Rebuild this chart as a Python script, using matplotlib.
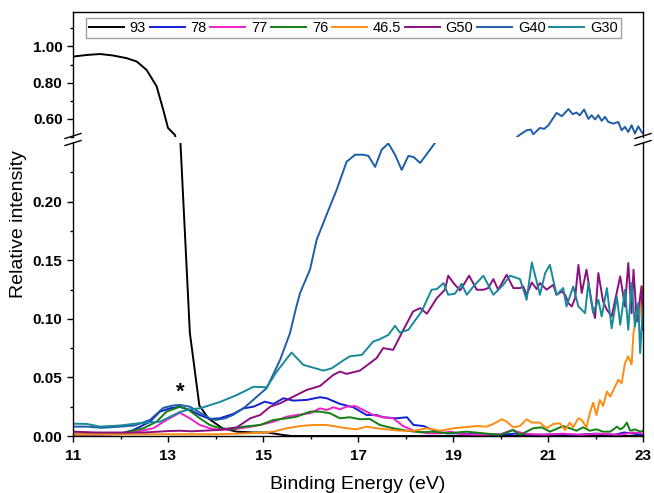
import matplotlib
matplotlib.use("Agg")
from matplotlib import pyplot as plt
from matplotlib.lines import Line2D
from matplotlib.ticker import MultipleLocator, FormatStrFormatter

plt.rcParams['font.family'] = 'Liberation Sans'
plt.rcParams['font.weight'] = 'bold'   # tick labels are bold in the original

# ---- data ----
e93 = [11.0, 11.3, 11.57, 11.84, 12.13, 12.34, 12.55, 12.76, 12.9, 13.0, 13.15,
       13.25, 13.46, 13.66, 13.85, 14.15, 14.45, 14.8, 15.1, 15.4, 15.6, 17.0, 19.0, 21.0, 23.0]
i93 = [0.944, 0.953, 0.958, 0.95, 0.935, 0.917, 0.87, 0.78, 0.65, 0.55, 0.51,
       0.26, 0.088, 0.026, 0.015, 0.0065, 0.0037, 0.003, 0.003, 0.001, 0.0, 0.0, 0.0, 0.0, 0.0]

e78 = [11.0, 11.5, 12.0, 12.27, 12.62, 12.83, 13.04, 13.25, 13.46, 13.67, 13.88, 14.09,
       14.37, 14.59, 14.8, 15.04, 15.22, 15.43, 15.64, 15.92, 16.2, 16.34, 16.62, 16.9,
       17.18, 17.39, 17.53, 17.81, 18.03, 18.17, 18.38, 18.66, 18.87, 19.04, 19.5, 20.0,
       20.3, 20.7, 21.2, 21.6, 22.0, 22.4, 22.6, 23.0]
i78 = [0.002, 0.002, 0.002, 0.0051, 0.0122, 0.0208, 0.0236, 0.025, 0.0222, 0.0179, 0.0145, 0.0151,
       0.0188, 0.0236, 0.025, 0.0293, 0.0274, 0.0322, 0.0302, 0.0308, 0.0331, 0.0322, 0.0274, 0.0245,
       0.0179, 0.0179, 0.016, 0.0151, 0.016, 0.0094, 0.0085, 0.0037, 0.0023, 0.0023, 0.0015, 0.001,
       0.002, 0.001, 0.0015, 0.001, 0.002, 0.001, 0.003, 0.001]

e77 = [11.0, 11.5, 12.0, 12.34, 12.69, 12.97, 13.25, 13.46, 13.67, 13.88, 14.09, 14.37, 14.66,
       14.94, 15.22, 15.5, 15.71, 15.99, 16.2, 16.34, 16.48, 16.62, 16.76, 16.94, 17.11, 17.32,
       17.53, 17.74, 17.95, 18.17, 18.45, 18.73, 18.94, 19.2, 19.6, 20.0, 20.24, 20.5, 20.9,
       21.3, 21.7, 22.1, 22.5, 22.8, 23.0]
i77 = [0.001, 0.001, 0.0015, 0.0037, 0.0066, 0.0137, 0.0199, 0.0151, 0.0094, 0.0066, 0.0051, 0.0057, 0.0074,
       0.0094, 0.0122, 0.0165, 0.0179, 0.0194, 0.0236, 0.0222, 0.0245, 0.0228, 0.025, 0.0256, 0.0222, 0.0179,
       0.016, 0.0151, 0.0085, 0.0045, 0.0023, 0.0023, 0.0037, 0.0015, 0.001, 0.0015, 0.005, 0.002, 0.001,
       0.002, 0.001, 0.002, 0.001, 0.003, 0.002]

e76 = [11.0, 11.5, 12.0, 12.48, 12.76, 12.97, 13.25, 13.46, 13.67, 13.88, 14.09, 14.31, 14.59,
       14.94, 15.22, 15.5, 15.71, 15.99, 16.2, 16.41, 16.62, 16.83, 17.04, 17.25, 17.46, 17.74,
       18.03, 18.31, 18.59, 18.87, 19.29, 19.64, 19.99, 20.27, 20.41, 20.69, 20.87, 21.04, 21.32,
       21.46, 21.6, 21.74, 21.88, 22.02, 22.16, 22.31, 22.38, 22.45, 22.52, 22.59, 22.66, 22.73,
       22.83, 22.94, 23.0]
i76 = [0.0015, 0.0015, 0.002, 0.0066, 0.0122, 0.0208, 0.025, 0.0216, 0.0151, 0.0094, 0.0066, 0.0057, 0.008,
       0.0094, 0.0137, 0.0151, 0.0165, 0.0208, 0.0208, 0.0194, 0.0151, 0.016, 0.0143, 0.0145, 0.0094, 0.0066,
       0.0045, 0.0032, 0.0037, 0.0023, 0.0037, 0.0023, 0.0009, 0.0051, 0.0009, 0.0066, 0.0074, 0.0037, 0.0085,
       0.0066, 0.0045, 0.0074, 0.0045, 0.0057, 0.0037, 0.0037, 0.0057, 0.008, 0.0057, 0.0074, 0.0114, 0.0045,
       0.0057, 0.0037, 0.0045]

e465 = [11.0, 12.0, 13.0, 14.0, 14.5, 14.94, 15.22, 15.5, 15.78, 16.06, 16.34, 16.55, 16.76, 16.97,
        17.18, 17.39, 17.6, 17.88, 18.17, 18.45, 18.73, 19.01, 19.22, 19.5, 19.71, 19.85, 20.03,
        20.13, 20.27, 20.41, 20.55, 20.66, 20.83, 20.97, 21.11, 21.25, 21.36, 21.46, 21.53, 21.64,
        21.71, 21.81, 21.88, 21.95, 22.02, 22.09, 22.16, 22.24, 22.31, 22.41, 22.48, 22.55, 22.62,
        22.69, 22.76, 22.8, 22.87, 22.92, 22.97, 23.0]
i465 = [0.0015, 0.0015, 0.0015, 0.0015, 0.002, 0.0028, 0.0037, 0.0066, 0.0085, 0.0094, 0.0094, 0.008, 0.0066, 0.0057,
        0.008, 0.0066, 0.0057, 0.0045, 0.0045, 0.0066, 0.0045, 0.0066, 0.0074, 0.0085, 0.008, 0.0103, 0.0143,
        0.0122, 0.0074, 0.0085, 0.0143, 0.0114, 0.0114, 0.0066, 0.0103, 0.0108, 0.0051, 0.0114, 0.0074, 0.0151,
        0.0137, 0.0074, 0.0194, 0.0285, 0.0179, 0.0308, 0.0256, 0.0379, 0.0336, 0.042, 0.048, 0.045, 0.062,
        0.068, 0.061, 0.088, 0.105, 0.096, 0.128, 0.12]

eG50 = [11.0, 11.5, 12.0, 12.5, 13.0, 13.25, 13.5, 14.03, 14.45, 14.73, 14.94, 15.15, 15.36, 15.57,
        15.92, 16.2, 16.48, 16.62, 16.76, 17.04, 17.39, 17.53, 17.74, 17.92, 18.16, 18.31, 18.45,
        18.66, 18.83, 18.9, 19.01, 19.15, 19.34, 19.5, 19.64, 19.74, 19.85, 19.95, 20.13, 20.27,
        20.41, 20.48, 20.55, 20.66, 20.76, 20.83, 20.97, 21.11, 21.18, 21.29, 21.36, 21.43, 21.5,
        21.57, 21.64, 21.71, 21.81, 21.92, 21.99, 22.06, 22.16, 22.24, 22.34, 22.52, 22.62, 22.69,
        22.76, 22.8, 22.87, 22.97, 23.0]
iG50 = [0.0037, 0.003, 0.003, 0.003, 0.0042, 0.0045, 0.004, 0.0051, 0.0074, 0.0151, 0.0179, 0.025, 0.0279, 0.0322,
        0.0393, 0.0427, 0.0521, 0.055, 0.053, 0.0558, 0.0664, 0.075, 0.0735, 0.0878, 0.1063, 0.1091, 0.1043,
        0.1177, 0.1248, 0.1368, 0.1305, 0.1242, 0.1368, 0.1248, 0.1248, 0.1262, 0.1339, 0.1248, 0.1376, 0.1262,
        0.1262, 0.1276, 0.1205, 0.131, 0.1254, 0.1305, 0.1248, 0.129, 0.1205, 0.1233, 0.1205, 0.1134, 0.1105,
        0.1177, 0.146, 0.122, 0.1419, 0.1134, 0.1006, 0.139, 0.1148, 0.1077, 0.102, 0.1362, 0.1105, 0.1476,
        0.1049, 0.1419, 0.0977, 0.1276, 0.0906]

eG40 = [11.0, 11.3, 11.6, 12.0, 12.3, 12.62, 12.9, 13.1, 13.25, 13.46, 13.67, 13.88, 14.0, 14.2,
        14.37, 14.6, 14.8, 15.08, 15.36, 15.57, 15.7, 15.78, 15.99, 16.13, 16.41, 16.55, 16.76,
        16.94, 17.11, 17.22, 17.36, 17.5, 17.64, 17.78, 17.92, 18.06, 18.17, 18.31, 18.62, 19.0,
        19.5, 20.0, 20.3, 20.41, 20.55, 20.64, 20.69, 20.83, 20.92, 21.01, 21.18, 21.29, 21.43,
        21.52, 21.6, 21.67, 21.76, 21.85, 21.92, 21.99, 22.06, 22.13, 22.2, 22.27, 22.38, 22.48,
        22.55, 22.62, 22.69, 22.76, 22.83, 22.9, 22.97, 23.0]
iG40 = [0.008, 0.008, 0.007, 0.008, 0.009, 0.0137, 0.024, 0.026, 0.0265, 0.025, 0.02, 0.015, 0.0137, 0.015,
        0.018, 0.024, 0.031, 0.041, 0.065, 0.088, 0.11, 0.122, 0.142, 0.1675, 0.196, 0.21, 0.234,
        0.24, 0.24, 0.239, 0.2296, 0.2444, 0.2496, 0.24, 0.227, 0.239, 0.238, 0.233, 0.25, 0.30,
        0.38, 0.45, 0.49, 0.513, 0.537, 0.541, 0.515, 0.55, 0.545, 0.565, 0.633, 0.615, 0.654,
        0.626, 0.635, 0.62, 0.652, 0.60, 0.62, 0.597, 0.62, 0.589, 0.611, 0.583, 0.574, 0.583,
        0.537, 0.556, 0.528, 0.565, 0.519, 0.559, 0.528, 0.52]

eG30 = [11.0, 11.29, 11.57, 12.0, 12.41, 12.83, 12.97, 13.25, 13.46, 13.67, 14.09, 14.45, 14.8,
        15.08, 15.29, 15.6, 15.85, 16.27, 16.45, 16.69, 16.83, 17.08, 17.32, 17.46, 17.64, 17.78,
        17.88, 18.06, 18.34, 18.55, 18.66, 18.8, 18.9, 19.04, 19.18, 19.29, 19.43, 19.64, 19.85,
        20.06, 20.2, 20.41, 20.55, 20.66, 20.83, 20.94, 21.04, 21.18, 21.32, 21.39, 21.53, 21.64,
        21.78, 21.85, 21.95, 22.06, 22.13, 22.24, 22.34, 22.45, 22.52, 22.62, 22.69, 22.76, 22.83,
        22.9, 22.94, 23.0]
iG30 = [0.0105, 0.0103, 0.008, 0.009, 0.011, 0.0122, 0.015, 0.0205, 0.0228, 0.0236, 0.029, 0.035, 0.042,
        0.0416, 0.055, 0.0712, 0.0607, 0.0558, 0.0578, 0.0645, 0.068, 0.0692, 0.0806, 0.0826, 0.0863, 0.094,
        0.0883, 0.0906, 0.1063, 0.1248, 0.1254, 0.1305, 0.1205, 0.1214, 0.1299, 0.1205, 0.1276, 0.1368, 0.1205,
        0.129, 0.1368, 0.1339, 0.1162, 0.1481, 0.1205, 0.139, 0.146, 0.1205, 0.1262, 0.1105, 0.1276, 0.1105,
        0.1049, 0.1305, 0.1049, 0.1162, 0.102, 0.1262, 0.092, 0.119, 0.0949, 0.1248, 0.0906, 0.1305, 0.0934,
        0.1134, 0.0707, 0.1105]

labels = ['93', '78', '77', '76', '46.5', 'G50', 'G40', 'G30']
colors = ['#000000', '#1020d0', '#f020c8', '#108010', '#ff8c10', '#8a1080', '#1e5ea8', '#18899a']
xs = [e93, e78, e77, e76, e465, eG50, eG40, eG30]
ys = [i93, i78, i77, i76, i465, iG50, iG40, iG30]

W, H = 654, 493
def fx(px):
    return px / W
def fy(py):
    return 1 - py / H

fig = plt.figure(figsize=(W / 100, H / 100), dpi=100)
L, R = 73, 643
ax_top = fig.add_axes([fx(L), fy(137), fx(R) - fx(L), fy(12) - fy(137)])
ax_bot = fig.add_axes([fx(L), fy(436), fx(R) - fx(L), fy(143) - fy(436)], sharex=ax_top)

for ax in (ax_top, ax_bot):
    for x, y, lab, c in zip(xs, ys, labels, colors):
        ax.plot(x, y, color=c, lw=1.4, label=lab)
    for s in ax.spines.values():
        s.set_linewidth(1.0)
    ax.tick_params(which='both', direction='out', width=1.0, labelsize=11, right=False, top=False)
    ax.tick_params(which='major', length=4)
    ax.tick_params(which='minor', length=2.2)

ax_top.set_xlim(11, 23)
ax_top.set_ylim(0.5, 1.19)
ax_top.set_yticks([0.6, 0.8, 1.0])
ax_top.yaxis.set_minor_locator(MultipleLocator(0.1))
ax_top.yaxis.set_major_formatter(FormatStrFormatter('%.2f'))
ax_top.spines['bottom'].set_visible(False)
ax_top.tick_params(axis='x', which='both', bottom=False, labelbottom=False)

ax_bot.set_ylim(0, 0.25)
ax_bot.set_yticks([0, 0.05, 0.10, 0.15, 0.20])
ax_bot.set_yticks([0.025, 0.075, 0.125, 0.175, 0.225], minor=True)
ax_bot.yaxis.set_major_formatter(FormatStrFormatter('%.2f'))
ax_bot.set_xticks([11, 13, 15, 17, 19, 21, 23])
ax_bot.set_xticks([12, 14, 16, 18, 20, 22], minor=True)
ax_bot.spines['top'].set_visible(False)
ax_bot.tick_params(axis='x', which='major', pad=5)

ax_bot.text(13.25, 0.037, '*', fontsize=16, fontweight='bold', ha='center', va='center')

# axis break marks
for xc in (L, R):
    for yc in (136, 143):
        fig.add_artist(Line2D([fx(xc - 8), fx(xc + 8)], [fy(yc + 2.5), fy(yc - 2.5)],
                              transform=fig.transFigure, color='black', lw=1.0))

fig.text(fx(19), fy(224), 'Relative intensity', rotation=90, ha='center', va='center',
         fontsize=14, fontweight='normal')
fig.text(fx(358), fy(489), 'Binding Energy (eV)', ha='center', va='baseline',
         fontsize=14, fontweight='normal')

leg = ax_top.legend(ncol=8, loc='upper left', bbox_to_anchor=(fx(86), fy(18)),
                    bbox_transform=fig.transFigure, borderaxespad=0,
                    prop={'size': 10.5, 'weight': 'normal'},
                    handlelength=2.4, handletextpad=0.4, columnspacing=0.25,
                    borderpad=0.2, fancybox=False, framealpha=1)
leg.get_frame().set_edgecolor('#a0a0a0')
leg.get_frame().set_linewidth(1.0)

fig.savefig('out.png', dpi=100)
